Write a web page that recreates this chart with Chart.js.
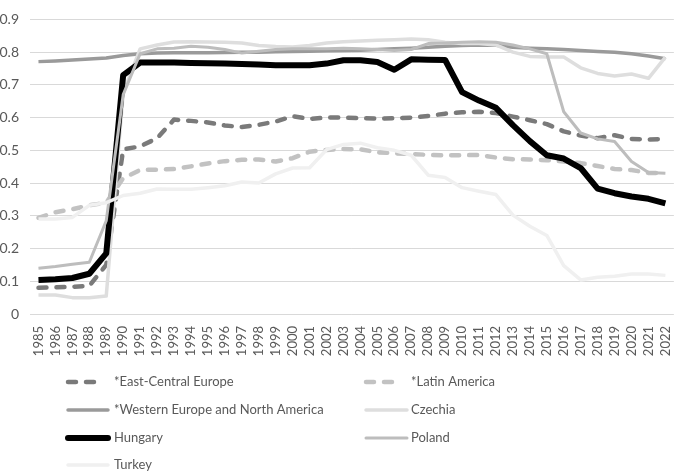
<!DOCTYPE html>
<html>
<head>
<meta charset="utf-8">
<script src="https://cdn.jsdelivr.net/npm/chart.js@4/dist/chart.umd.min.js"></script>
<style>
  html, body { margin: 0; padding: 0; background: #fff; }
  #wrap { width: 685px; height: 472px; }
</style>
</head>
<body>
<div id="wrap"><canvas id="chart"></canvas></div>
<script>
const years = ['1985','1986','1987','1988','1989','1990','1991','1992','1993','1994',
  '1995','1996','1997','1998','1999','2000','2001','2002','2003','2004',
  '2005','2006','2007','2008','2009','2010','2011','2012','2013','2014',
  '2015','2016','2017','2018','2019','2020','2021','2022'];

const eastCentralEurope = [0.080, 0.082, 0.083, 0.086, 0.150, 0.503, 0.512, 0.537, 0.594, 0.590,
  0.585, 0.576, 0.571, 0.578, 0.588, 0.604, 0.596, 0.600, 0.600, 0.598,
  0.597, 0.598, 0.600, 0.605, 0.612, 0.616, 0.618, 0.614, 0.603, 0.592,
  0.580, 0.558, 0.545, 0.537, 0.546, 0.535, 0.533, 0.535];
const latinAmerica = [0.294, 0.311, 0.320, 0.332, 0.340, 0.415, 0.440, 0.441, 0.443, 0.451,
  0.460, 0.467, 0.471, 0.472, 0.466, 0.476, 0.496, 0.501, 0.504, 0.503,
  0.494, 0.491, 0.489, 0.486, 0.485, 0.485, 0.486, 0.478, 0.473, 0.472,
  0.470, 0.466, 0.461, 0.452, 0.443, 0.440, 0.431, 0.430];
const westernEuropeNA = [0.771, 0.773, 0.776, 0.779, 0.782, 0.790, 0.795, 0.797, 0.798, 0.798,
  0.798, 0.799, 0.800, 0.800, 0.801, 0.802, 0.803, 0.804, 0.805, 0.806,
  0.808, 0.810, 0.812, 0.815, 0.818, 0.820, 0.822, 0.821, 0.815, 0.812,
  0.810, 0.808, 0.805, 0.802, 0.800, 0.795, 0.788, 0.780];
const czechia = [0.058, 0.058, 0.050, 0.050, 0.055, 0.675, 0.810, 0.822, 0.831, 0.832,
  0.831, 0.830, 0.828, 0.820, 0.817, 0.816, 0.820, 0.828, 0.832, 0.834,
  0.836, 0.838, 0.840, 0.838, 0.830, 0.826, 0.826, 0.822, 0.800, 0.787,
  0.785, 0.785, 0.752, 0.735, 0.727, 0.733, 0.720, 0.785];
const hungary = [0.104, 0.106, 0.110, 0.123, 0.185, 0.730, 0.768, 0.768, 0.768, 0.767,
  0.766, 0.765, 0.764, 0.762, 0.760, 0.760, 0.760, 0.765, 0.775, 0.775,
  0.770, 0.746, 0.778, 0.777, 0.776, 0.678, 0.652, 0.630, 0.577, 0.528,
  0.485, 0.475, 0.446, 0.383, 0.369, 0.359, 0.352, 0.338];
const poland = [0.140, 0.145, 0.152, 0.158, 0.285, 0.670, 0.795, 0.810, 0.812, 0.818,
  0.815, 0.808, 0.797, 0.803, 0.808, 0.810, 0.810, 0.810, 0.812, 0.810,
  0.808, 0.805, 0.808, 0.826, 0.828, 0.830, 0.832, 0.830, 0.822, 0.810,
  0.795, 0.618, 0.553, 0.535, 0.527, 0.466, 0.432, 0.430];
const turkey = [0.290, 0.290, 0.295, 0.332, 0.340, 0.362, 0.369, 0.382, 0.381, 0.381,
  0.386, 0.392, 0.403, 0.400, 0.428, 0.446, 0.447, 0.502, 0.518, 0.522,
  0.508, 0.500, 0.485, 0.424, 0.417, 0.386, 0.375, 0.365, 0.302, 0.268,
  0.240, 0.148, 0.104, 0.112, 0.115, 0.122, 0.122, 0.118];

const yTicks = [0, 0.1, 0.2, 0.3, 0.4, 0.5, 0.6, 0.7, 0.8, 0.9];

const FONT = 'Lato, "Noto Sans", sans-serif';
const TEXT = '#595959';

const series = [
  { label: '*East-Central Europe', data: eastCentralEurope, color: '#7a7a7a', width: 4.5, dash: [8, 10] },
  { label: '*Latin America', data: latinAmerica, color: '#c2c2c2', width: 4.5, dash: [8, 10] },
  { label: '*Western Europe and North America', data: westernEuropeNA, color: '#9a9a9a', width: 3.5 },
  { label: 'Czechia', data: czechia, color: '#dedede', width: 3.5 },
  { label: 'Hungary', data: hungary, color: '#000000', width: 6 },
  { label: 'Poland', data: poland, color: '#bdbdbd', width: 3 },
  { label: 'Turkey', data: turkey, color: '#f0f0f0', width: 3.5 },
];

// legend laid out in two columns under the axis, like the original
const gridLegend = {
  id: 'gridLegend',
  afterDraw(chart) {
    const ctx = chart.ctx;
    const cols = [{ x0: 68, x1: 108, tx: 114 }, { x0: 366, x1: 407, tx: 411 }];
    const rows = [382, 410, 438, 465];
    chart.data.datasets.forEach((ds, i) => {
      const c = cols[i % 2];
      const y = rows[Math.floor(i / 2)];
      ctx.save();
      ctx.strokeStyle = ds.borderColor;
      ctx.lineWidth = ds.borderWidth;
      ctx.lineCap = 'round';
      ctx.setLineDash(ds.borderDash || []);
      ctx.beginPath();
      ctx.moveTo(c.x0, y);
      ctx.lineTo(ds.borderDash && ds.borderDash.length ? c.x1 - 8 : c.x1, y);
      ctx.stroke();
      ctx.setLineDash([]);
      ctx.fillStyle = TEXT;
      ctx.font = '13px ' + FONT;
      ctx.textBaseline = 'middle';
      ctx.fillText(ds.label, c.tx, y);
      ctx.restore();
    });
  }
};

new Chart(document.getElementById('chart'), {
  type: 'line',
  data: {
    labels: years,
    datasets: series.map((s, i) => ({
      label: s.label,
      data: s.data,
      borderColor: s.color,
      backgroundColor: s.color,
      borderWidth: s.width,
      borderDash: s.dash || [],
      borderCapStyle: s.dash ? 'round' : 'butt',
      borderJoinStyle: 'round',
      pointRadius: 0,
      tension: 0,
      fill: false,
      order: series.length - i,
    }))
  },
  options: {
    responsive: true,
    maintainAspectRatio: false,
    animation: false,
    layout: { padding: { top: 4, bottom: 116, left: 0, right: 0 } },
    plugins: { legend: { display: false }, tooltip: { enabled: false } },
    scales: {
      x: {
        offset: true,
        grid: { display: false },
        border: { display: false },
        ticks: {
          autoSkip: false, maxRotation: 90, minRotation: 90,
          color: TEXT, font: { family: FONT, size: 13 }, padding: 4
        },
        afterFit(scale) { scale.height = 42; }
      },
      y: {
        min: 0, max: 0.9,
        afterBuildTicks(scale) { scale.ticks = yTicks.map(v => ({ value: v })); },
        grid: { color: '#d9d9d9', lineWidth: 1, drawTicks: false },
        border: { display: false },
        ticks: {
          color: TEXT, font: { family: FONT, size: 14 }, padding: 11,
          callback: v => String(Math.round(v * 10) / 10)
        },
        afterFit(scale) { scale.width = 30; }
      }
    }
  },
  plugins: [gridLegend]
});
</script>
</body>
</html>
